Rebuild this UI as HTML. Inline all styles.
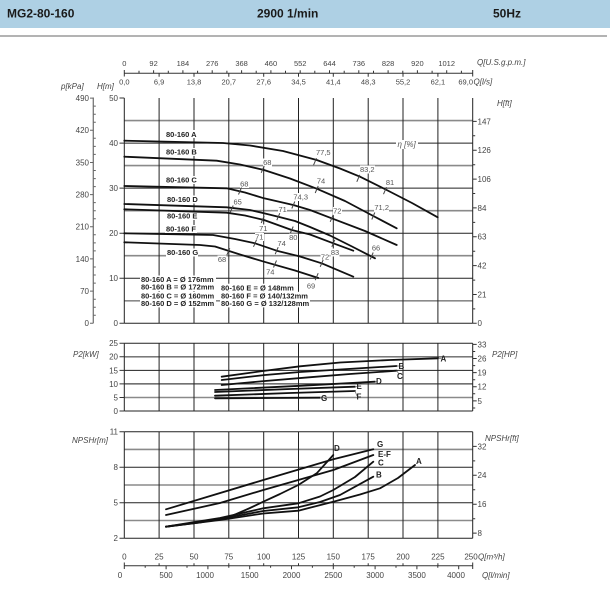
<!DOCTYPE html>
<html><head><meta charset="utf-8"><style>
html,body{margin:0;padding:0;background:#fff;}
svg{display:block;}
text{font-family:"Liberation Sans",sans-serif;}
.t{font-size:8px;fill:#444;}
.ts{font-size:7.5px;fill:#444;}
.it{font-size:8px;fill:#444;font-style:italic;}
.e{font-size:7.5px;fill:#555;}
.b{font-size:7.5px;fill:#222;font-weight:bold;}
.cv{fill:none;stroke:#111;stroke-width:1.8;stroke-linejoin:round;stroke-linecap:round;}
.gd{stroke:#222;stroke-width:1;fill:none;}
.gg{stroke:#8a8a8a;stroke-width:1.6;fill:none;}
.tk{stroke:#333;stroke-width:1;fill:none;}
.et{stroke:#444;stroke-width:1;}
</style></head><body>
<svg width="610" height="592" viewBox="0 0 610 592" xmlns="http://www.w3.org/2000/svg">
<rect x="0" y="0" width="610" height="592" fill="#fff"/>
<!-- header -->
<rect x="0" y="0" width="610" height="28" fill="#aed0e4"/>
<text x="7" y="17.5" style="font-size:12px;font-weight:bold;fill:#1a1a1a">MG2-80-160</text>
<text x="257" y="17.5" style="font-size:12px;font-weight:bold;fill:#1a1a1a">2900 1/min</text>
<text x="493" y="17.5" style="font-size:12px;font-weight:bold;fill:#1a1a1a">50Hz</text>
<line x1="0" y1="36" x2="607" y2="36" stroke="#9a9a9a" stroke-width="1.5"/>

<!-- top axes -->
<g class="ts" text-anchor="middle">
<text x="124.3" y="66">0</text><text x="153.6" y="66">92</text><text x="182.9" y="66">184</text><text x="212.2" y="66">276</text><text x="241.6" y="66">368</text><text x="270.9" y="66">460</text><text x="300.2" y="66">552</text><text x="329.5" y="66">644</text><text x="358.8" y="66">736</text><text x="388.1" y="66">828</text><text x="417.4" y="66">920</text><text x="446.7" y="66">1012</text>
</g>
<text x="477" y="65" class="it">Q[U.S.g.p.m.]</text>
<line x1="124.3" y1="73.3" x2="472.7" y2="73.3" class="tk"/>
<path class="tk" d="M124.3 70v6.5M159.1 73.3v3.5M194 73.3v3.5M228.8 73.3v3.5M263.7 73.3v3.5M298.5 73.3v3.5M333.3 73.3v3.5M368.2 73.3v3.5M403 73.3v3.5M437.9 73.3v3.5M472.7 70v6.5
M139 73.3v-2.5M153.6 73.3v-3M168.3 73.3v-2.5M182.9 73.3v-3M197.6 73.3v-2.5M212.2 73.3v-3M226.9 73.3v-2.5M241.6 73.3v-3M256.2 73.3v-2.5M270.9 73.3v-3M285.5 73.3v-2.5M300.2 73.3v-3M314.8 73.3v-2.5M329.5 73.3v-3M344.2 73.3v-2.5M358.8 73.3v-3M373.5 73.3v-2.5M388.1 73.3v-3M402.8 73.3v-2.5M417.4 73.3v-3M432.1 73.3v-2.5M446.7 73.3v-3M461.4 73.3v-2.5"/>
<g class="ts" text-anchor="middle">
<text x="124.3" y="84.5">0,0</text><text x="159.1" y="84.5">6,9</text><text x="194" y="84.5">13,8</text><text x="228.8" y="84.5">20,7</text><text x="263.7" y="84.5">27,6</text><text x="298.5" y="84.5">34,5</text><text x="333.3" y="84.5">41,4</text><text x="368.2" y="84.5">48,3</text><text x="403" y="84.5">55,2</text><text x="437.9" y="84.5">62,1</text>
</g>
<text x="473" y="84.5" class="ts" text-anchor="end">69,0</text>
<text x="473.5" y="84.5" class="it">Q[l/s]</text>

<!-- main chart labels -->
<text x="61" y="89" class="it">p[kPa]</text>
<text x="97" y="89" class="it">H[m]</text>
<text x="497" y="106" class="it">H[ft]</text>

<!-- kPa axis -->
<line x1="93.3" y1="97.5" x2="93.3" y2="323.3" stroke="#777" stroke-width="1.3"/>
<path stroke="#666" stroke-width="1" d="M90 98.1h3.3M90 130.3h3.3M90 162.5h3.3M90 194.6h3.3M90 226.8h3.3M90 258.9h3.3M90 291.1h3.3M90 323.3h3.3
M93.3 106.1h2.5M93.3 114.2h2.5M93.3 122.2h2.5M93.3 138.3h2.5M93.3 146.4h2.5M93.3 154.4h2.5M93.3 170.5h2.5M93.3 178.6h2.5M93.3 186.6h2.5M93.3 202.6h2.5M93.3 210.7h2.5M93.3 218.7h2.5M93.3 234.8h2.5M93.3 242.9h2.5M93.3 250.9h2.5M93.3 267h2.5M93.3 275h2.5M93.3 283.1h2.5M93.3 299.2h2.5M93.3 307.2h2.5M93.3 315.3h2.5"/>
<g class="t" text-anchor="end">
<text x="89" y="101">490</text><text x="89" y="133.2">420</text><text x="89" y="165.4">350</text><text x="89" y="197.5">280</text><text x="89" y="229.7">210</text><text x="89" y="261.8">140</text><text x="89" y="294">70</text><text x="89" y="326.2">0</text>
</g>
<!-- H[m] axis labels -->
<g class="t" text-anchor="end">
<text x="118" y="101">50</text><text x="118" y="146">40</text><text x="118" y="191">30</text><text x="118" y="236.1">20</text><text x="118" y="281.1">10</text><text x="118" y="326.2">0</text>
</g>
<path class="tk" d="M119.5 98h4.8M119.5 143.1h4.8M119.5 188.1h4.8M119.5 233.2h4.8M119.5 278.2h4.8M119.5 323.3h4.8"/>

<!-- main grid -->
<path class="gg" d="M124.3 120.6H472.7M124.3 165.6H472.7M124.3 210.65H472.7M124.3 255.7H472.7M124.3 300.8H472.7"/>
<path class="gd" d="M124.3 143.1H472.7M124.3 188.1H472.7M124.3 233.2H472.7M124.3 278.2H472.7M124.3 323.3H472.7
M124.3 98V323.3M159.1 98V323.3M194 98V323.3M228.8 98V323.3M263.7 98V323.3M298.5 98V323.3M333.3 98V323.3M368.2 98V323.3M403 98V323.3M437.9 98V323.3M472.7 98V323.3"/>
<!-- right ft ticks -->
<path class="tk" d="M472.7 121.4h4M472.7 150.2h4M472.7 179.1h4M472.7 207.9h4M472.7 236.8h4M472.7 265.6h4M472.7 294.5h4M472.7 323.3h4
M472.7 135.8h2.5M472.7 164.7h2.5M472.7 193.5h2.5M472.7 222.4h2.5M472.7 251.2h2.5M472.7 280.1h2.5M472.7 308.9h2.5"/>
<g class="t">
<text x="477.5" y="124.3">147</text><text x="477.5" y="153.1">126</text><text x="477.5" y="182">106</text><text x="477.5" y="210.8">84</text><text x="477.5" y="239.7">63</text><text x="477.5" y="268.5">42</text><text x="477.5" y="297.4">21</text><text x="477.5" y="326.2">0</text>
</g>

<!-- white backgrounds for labels -->
<g fill="#fff">
<rect x="165" y="130" width="32" height="8"/>
<rect x="165" y="148" width="32" height="8"/>
<rect x="165" y="176" width="32" height="8"/>
<rect x="166" y="195.5" width="32" height="8"/>
<rect x="166" y="212" width="32" height="8"/>
<rect x="165" y="225" width="32" height="8"/>
<rect x="166" y="248.5" width="32" height="8"/>
<rect x="396" y="140" width="22" height="9"/>
<rect x="140" y="275.5" width="76" height="8"/>
<rect x="140" y="283" width="76" height="8"/>
<rect x="140" y="291.8" width="76" height="8"/>
<rect x="140" y="299.4" width="76" height="8"/>
<rect x="220" y="283.7" width="76" height="8"/>
<rect x="220" y="291.8" width="88" height="8"/>
<rect x="220" y="299.4" width="90" height="8"/>
<!-- efficiency label bgs -->
<rect x="316" y="148.5" width="15" height="8"/><rect x="360" y="165.5" width="15" height="8"/><rect x="386" y="178.5" width="8" height="8"/>
<rect x="263" y="158.5" width="9" height="8"/><rect x="317" y="177" width="8" height="8"/><rect x="374" y="203.5" width="15" height="8"/>
<rect x="240" y="180" width="9" height="8"/><rect x="293" y="193" width="15" height="8"/><rect x="333" y="207" width="9" height="8"/>
<rect x="233" y="198" width="9" height="8"/><rect x="278" y="205.5" width="9" height="8"/><rect x="372" y="244" width="9" height="8"/>
<rect x="259" y="224.5" width="9" height="8"/><rect x="289" y="233.5" width="9" height="8"/><rect x="330.5" y="248.5" width="9" height="8"/>
<rect x="255" y="233" width="9" height="8"/><rect x="277" y="239.5" width="9" height="8"/><rect x="320.5" y="253" width="9" height="8"/>
<rect x="217.5" y="255.5" width="9" height="8"/><rect x="266" y="268" width="9" height="8"/><rect x="306.5" y="282" width="9" height="8"/>
</g>

<!-- curves -->
<polyline class="cv" points="124.3,140.7 223,143 250,145.5 283,151 316.7,160 340,168.5 360,176.7 386.7,190 412,203 437.7,217.3"/>
<polyline class="cv" points="124.3,156.7 216.7,160.7 240,164.5 264,170 290,178.5 316.7,188.7 345,201 373.3,216 396.7,228.3"/>
<polyline class="cv" points="124.3,186 226.7,188.3 245,192.5 264,198.3 293.3,205 310,210 331.7,218.3 365,231 396.7,245"/>
<polyline class="cv" points="124.3,204 226.7,207.3 250,210 264,213.3 278.3,216.7 295,221 310,227 330,235.5 352,246.5 375,258.3"/>
<polyline class="cv" points="124.3,209.3 226.7,212.7 245,215.5 264,220 291.7,230 310,234.5 333.3,243.3 353.3,250.7"/>
<polyline class="cv" points="124.3,233.3 213,235 235,239 255,243.3 276.7,250.7 300,256.5 321.7,263.3 353.3,276.7"/>
<polyline class="cv" points="124.3,242.3 200,245 215,246.5 240,254.5 264,261.7 295,270.5 318.3,278"/>

<!-- efficiency ticks -->
<path class="et" d="M313.5 165.2l3-7M356.8 181.8l3-7M383.5 194.2l3-7
M261.2 172.8l3-7M315.2 193l3-7M371.8 219.5l3-7
M238.5 194.5l3-7M291.8 208.5l3-7M330.2 221.8l3-7
M230.2 212.5l3-7M276.8 220.2l3-7M370.2 259.5l3-7
M261.2 223l3-7M290.2 233.5l3-7M331.8 246.8l3-7
M253.5 246.8l3-7M275.2 254.2l3-7M320.2 266.8l3-7
M226.8 255.2l3-7M273.5 267.5l3-7M315.2 280.2l3-7"/>
<g class="e" text-anchor="middle">
<text x="323.3" y="155">77,5</text><text x="367.3" y="172">83,2</text><text x="390" y="185">81</text>
<text x="267.3" y="165">68</text><text x="321" y="183.7">74</text><text x="381.7" y="210">71,2</text>
<text x="244.3" y="186.4">68</text><text x="300.7" y="199.4">74,3</text><text x="337.3" y="213.4">72</text>
<text x="237.7" y="204.7">65</text><text x="282.7" y="212">71</text><text x="376" y="250.4">66</text>
<text x="263.3" y="231">71</text><text x="293.3" y="240">80</text><text x="335" y="255">83</text>
<text x="259.3" y="239.4">71</text><text x="281.7" y="246">74</text><text x="325" y="259.4">72</text>
<text x="222" y="262">68</text><text x="270.3" y="274.7">74</text><text x="311" y="288.7">69</text>
</g>
<text x="397.5" y="147" style="font-size:8px;fill:#555;font-style:italic">η [%]</text>

<!-- curve labels -->
<g class="b">
<text x="166" y="137">80-160 A</text>
<text x="166" y="154.7">80-160 B</text>
<text x="166" y="182.7">80-160 C</text>
<text x="167" y="202">80-160 D</text>
<text x="167" y="218.7">80-160 E</text>
<text x="166" y="231.7">80-160 F</text>
<text x="167" y="255">80-160 G</text>
<text x="141" y="282">80-160 A = Ø 176mm</text>
<text x="141" y="289.7">80-160 B = Ø 172mm</text>
<text x="141" y="298.4">80-160 C = Ø 160mm</text>
<text x="141" y="306">80-160 D = Ø 152mm</text>
<text x="221" y="290.4">80-160 E = Ø 148mm</text>
<text x="221" y="298.4">80-160 F = Ø 140/132mm</text>
<text x="221" y="306">80-160 G = Ø 132/128mm</text>
</g>

<!-- P2 chart -->
<text x="73" y="357" class="it">P2[kW]</text>
<text x="492" y="357" class="it">P2[HP]</text>
<path stroke="#666" stroke-width="1.3" fill="none" d="M124.3 356.8H472.7"/>
<path stroke="#444" stroke-width="1.2" fill="none" d="M124.3 383.9H472.7"/>
<path class="gg" d="M124.3 397.5H472.7"/>
<path class="gd" d="M124.3 343.3H472.7M124.3 370.4H472.7M124.3 411H472.7
M124.3 343.3V411M159.1 343.3V411M194 343.3V411M228.8 343.3V411M263.7 343.3V411M298.5 343.3V411M333.3 343.3V411M368.2 343.3V411M403 343.3V411M437.9 343.3V411M472.7 343.3V411"/>
<path class="tk" d="M119.5 343.3h4.8M119.5 356.8h4.8M119.5 370.4h4.8M119.5 383.9h4.8M119.5 397.5h4.8M119.5 411h4.8
M472.7 344.4h4M472.7 358.5h4M472.7 372.6h4M472.7 386.8h4M472.7 400.9h4
M472.7 351.5h2.5M472.7 365.6h2.5M472.7 379.7h2.5M472.7 393.8h2.5M472.7 408h2.5"/>
<g class="t" text-anchor="end">
<text x="118" y="346.2">25</text><text x="118" y="359.7">20</text><text x="118" y="373.3">15</text><text x="118" y="386.8">10</text><text x="118" y="400.4">5</text><text x="118" y="413.9">0</text>
</g>
<g class="t">
<text x="477.5" y="347.3">33</text><text x="477.5" y="361.4">26</text><text x="477.5" y="375.5">19</text><text x="477.5" y="389.7">12</text><text x="477.5" y="403.8">5</text>
</g>
<polyline class="cv" points="221.7,376.7 263,371 300,366.3 340,362.5 390,360 438.3,358.3"/>
<polyline class="cv" points="221.7,380 265,375 300,372 340,369.5 396.7,366"/>
<polyline class="cv" points="221.7,385 265,381 309,377.3 350,374 396.7,370.7"/>
<polyline class="cv" points="215,390 300,385.8 375,381.7"/>
<polyline class="cv" points="215,392 290,389 355,386.7"/>
<polyline class="cv" points="215,395.7 290,393 355,391"/>
<polyline class="cv" points="215,398.3 270,398 320,397.7"/>
<path stroke="#777" stroke-width="0.8" d="M438.3 358.3h3M396.7 366h3M396.7 370.7l2 3M375 381.7h2.5M355 386.7h2M355 391l2 5M320 397.7h2"/>
<g class="b" style="font-size:8px">
<text x="440.5" y="361.3">A</text><text x="398.5" y="369">B</text><text x="397" y="379">C</text><text x="376" y="384">D</text><text x="356.5" y="389">E</text><text x="356.5" y="399.5">F</text><text x="321" y="401">G</text>
</g>

<!-- NPSH chart -->
<text x="72" y="443" class="it">NPSHr[m]</text>
<text x="485" y="441" class="it">NPSHr[ft]</text>
<path class="gg" d="M124.3 449.4H472.7M124.3 485H472.7M124.3 520.5H472.7"/>
<path class="gd" d="M124.3 431.7H472.7M124.3 467.2H472.7M124.3 502.8H472.7M124.3 538.3H472.7
M124.3 431.7V538.3M159.1 431.7V538.3M194 431.7V538.3M228.8 431.7V538.3M263.7 431.7V538.3M298.5 431.7V538.3M333.3 431.7V538.3M368.2 431.7V538.3M403 431.7V538.3M437.9 431.7V538.3M472.7 431.7V538.3"/>
<path class="tk" d="M119.5 431.7h4.8M119.5 467.2h4.8M119.5 502.8h4.8M119.5 538.3h4.8
M472.7 446.4h4M472.7 475.3h4M472.7 504.2h4M472.7 533.1h4
M472.7 460.9h2.5M472.7 489.8h2.5M472.7 518.7h2.5"/>
<g class="t" text-anchor="end">
<text x="118" y="434.6">11</text><text x="118" y="470.1">8</text><text x="118" y="505.7">5</text><text x="118" y="541.2">2</text>
</g>
<g class="t">
<text x="477.5" y="449.3">32</text><text x="477.5" y="478.2">24</text><text x="477.5" y="507.1">16</text><text x="477.5" y="536">8</text>
</g>
<polyline class="cv" points="166,509.3 263.3,480 333.3,459.3 373.3,449.3"/>
<polyline class="cv" points="166,515 220,503 263.3,490 333.3,470 373.3,455"/>
<polyline class="cv" points="166,526.7 200,522.5 230,516.7 250,508 263.3,501.7 280,494 298.3,485 316.7,473.3 333.3,455"/>
<polyline class="cv" points="166,526.7 220,518 263.3,508.3 298.3,503.3 320,496.5 333.3,490 355,477 373.3,461.7"/>
<polyline class="cv" points="166,526.7 220,519 263.3,511 298.3,507.3 320,502 340,495 373.3,476.7"/>
<polyline class="cv" points="166,526.7 220,520 263.3,513.5 298.3,510.7 333.3,501.7 360,494.5 380,488.3 398,478 415,465"/>
<g class="b" style="font-size:8px">
<text x="334" y="451">D</text><text x="377" y="447">G</text><text x="378" y="457">E-F</text><text x="378" y="465.5">C</text><text x="376" y="477.5">B</text><text x="416" y="464">A</text>
</g>

<!-- bottom axes -->
<g class="t" text-anchor="middle">
<text x="124.3" y="559.5">0</text><text x="159.1" y="559.5">25</text><text x="194" y="559.5">50</text><text x="228.8" y="559.5">75</text><text x="263.7" y="559.5">100</text><text x="298.5" y="559.5">125</text><text x="333.3" y="559.5">150</text><text x="368.2" y="559.5">175</text><text x="403" y="559.5">200</text><text x="437.9" y="559.5">225</text><text x="471" y="559.5">250</text>
</g>
<text x="478" y="559.5" class="it">Q[m³/h]</text>
<line x1="124.3" y1="565.7" x2="472.7" y2="565.7" class="tk"/>
<path class="tk" d="M124.3 562.5v6.5M472.7 562.5v6.5
M159.1 565.7v-2.5M194 565.7v-2.5M228.8 565.7v-2.5M263.7 565.7v-2.5M298.5 565.7v-2.5M333.3 565.7v-2.5M368.2 565.7v-2.5M403 565.7v-2.5M437.9 565.7v-2.5
M166.1 565.7v3.5M207.9 565.7v3.5M249.7 565.7v3.5M291.5 565.7v3.5M333.3 565.7v3.5M375.1 565.7v3.5M416.9 565.7v3.5M458.7 565.7v3.5
M145.2 565.7v2M187 565.7v2M228.8 565.7v2M270.6 565.7v2M312.4 565.7v2M354.2 565.7v2M396 565.7v2M437.8 565.7v2"/>
<g class="t" text-anchor="middle">
<text x="120" y="578">0</text><text x="166.1" y="578">500</text><text x="205" y="578">1000</text><text x="249.7" y="578">1500</text><text x="291.5" y="578">2000</text><text x="333.3" y="578">2500</text><text x="375.1" y="578">3000</text><text x="416.9" y="578">3500</text><text x="456" y="578">4000</text>
</g>
<text x="482" y="578" class="it">Q[l/min]</text>
</svg>
</body></html>
